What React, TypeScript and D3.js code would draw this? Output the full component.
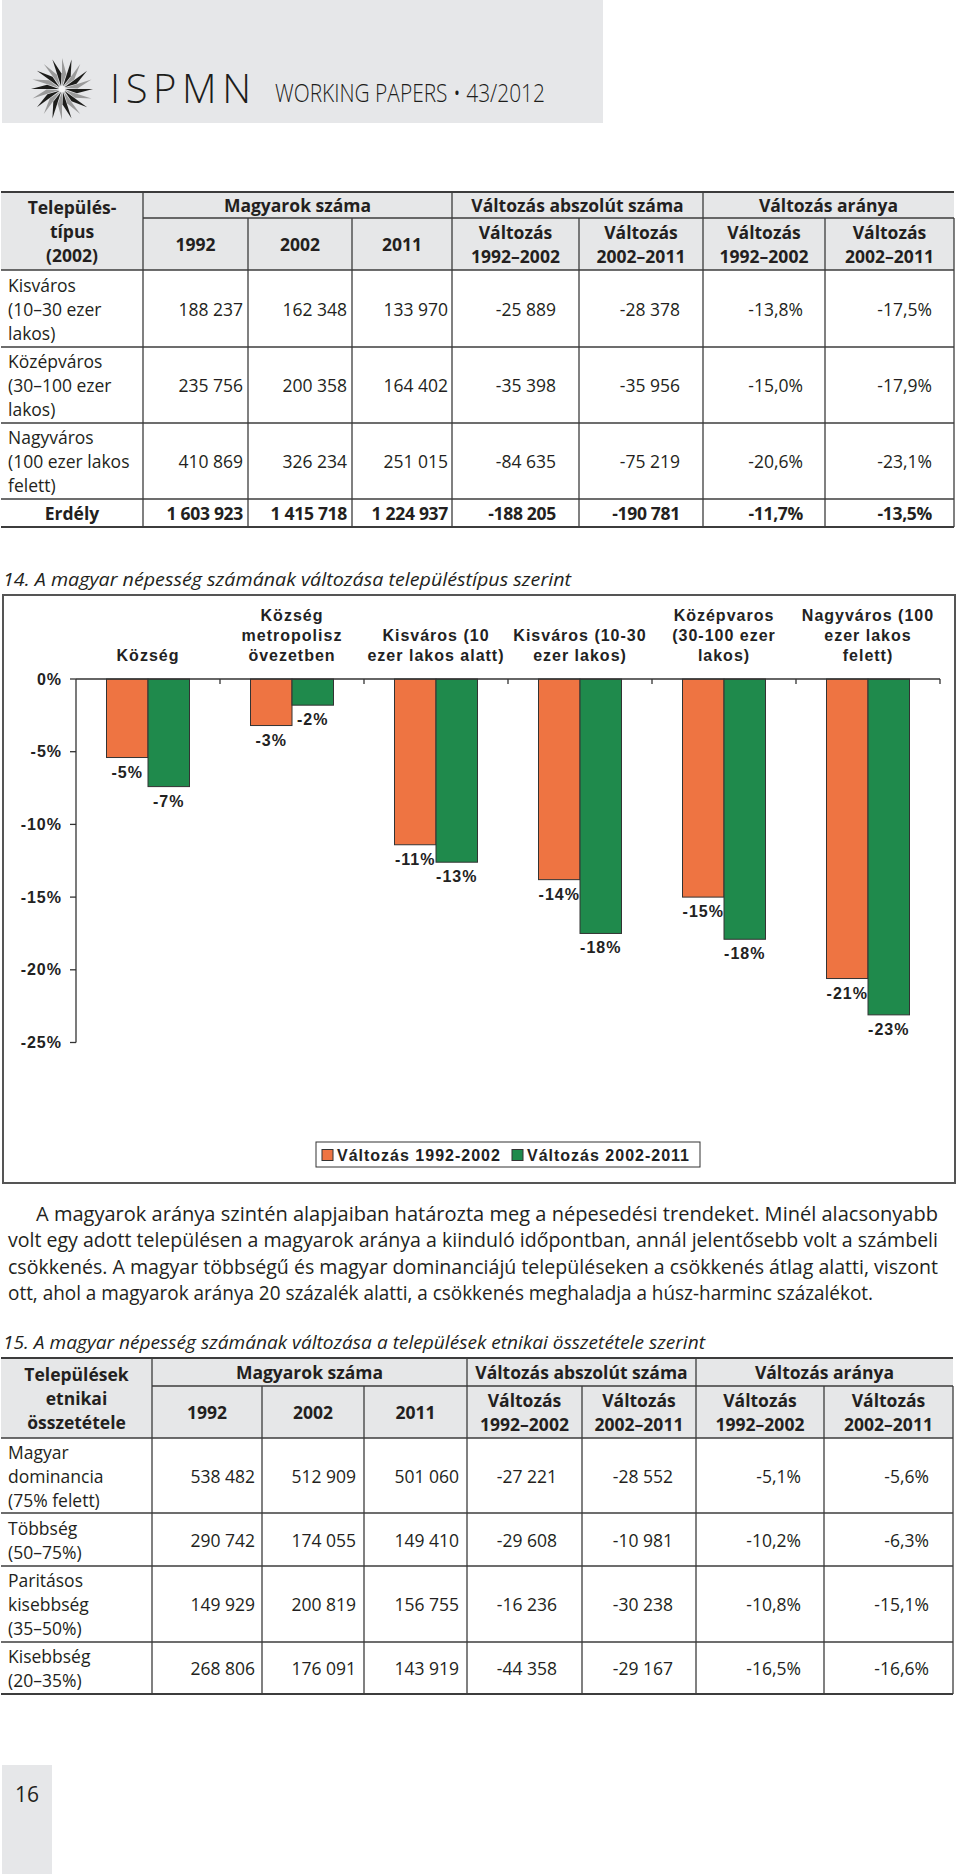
import React from 'react';
import * as d3 from 'd3';

// ---------- Chart data ----------
const categories: string[][] = [
  ['Község'],
  ['Község', 'metropolisz', 'övezetben'],
  ['Kisváros (10', 'ezer lakos alatt)'],
  ['Kisváros (10-30', 'ezer lakos)'],
  ['Középvaros', '(30-100 ezer', 'lakos)'],
  ['Nagyváros (100', 'ezer lakos', 'felett)'],
];
const seriesNames = ['Változás 1992-2002', 'Változás 2002-2011'];
const change1992_2002 = [-5.4, -3.2, -11.4, -13.8, -15.0, -20.6];
const change2002_2011 = [-7.4, -1.8, -12.6, -17.5, -17.9, -23.1];
const yTicks = [0, -5, -10, -15, -20, -25];
const seriesColors = ['#ee7442', '#1f8a4c'];

// ---------- Table 13 data ----------
const t1RowLabels: string[][] = [
  ['Kisváros', '(10–30 ezer', 'lakos)'],
  ['Középváros', '(30–100 ezer', 'lakos)'],
  ['Nagyváros', '(100 ezer lakos', 'felett)'],
];
const t1Values: string[][] = [
  ['188 237', '162 348', '133 970', '-25 889', '-28 378', '-13,8%', '-17,5%'],
  ['235 756', '200 358', '164 402', '-35 398', '-35 956', '-15,0%', '-17,9%'],
  ['410 869', '326 234', '251 015', '-84 635', '-75 219', '-20,6%', '-23,1%'],
];
const t1TotalLabel = 'Erdély';
const t1Total = ['1 603 923', '1 415 718', '1 224 937', '-188 205', '-190 781', '-11,7%', '-13,5%'];
const t1FirstHeader = ['Település-', 'típus', '(2002)'];

// ---------- Table 15 data ----------
const t2RowLabels: string[][] = [
  ['Magyar', 'dominancia', '(75% felett)'],
  ['Többség', '(50–75%)'],
  ['Paritásos', 'kisebbség', '(35–50%)'],
  ['Kisebbség', '(20–35%)'],
];
const t2Values: string[][] = [
  ['538 482', '512 909', '501 060', '-27 221', '-28 552', '-5,1%', '-5,6%'],
  ['290 742', '174 055', '149 410', '-29 608', '-10 981', '-10,2%', '-6,3%'],
  ['149 929', '200 819', '156 755', '-16 236', '-30 238', '-10,8%', '-15,1%'],
  ['268 806', '176 091', '143 919', '-44 358', '-29 167', '-16,5%', '-16,6%'],
];
const t2FirstHeader = ['Települések', 'etnikai', 'összetétele'];

const groupHeaders = ['Magyarok száma', 'Változás abszolút száma', 'Változás aránya'];
const yearHeaders = ['1992', '2002', '2011'];
const t1SubHeaders: string[][] = [
  ['Változás', '1992–2002'], ['Változás', '2002–2011'], ['Változás', '1992–2002'], ['Változás', '2002–2011'],
];
const t2SubHeaders: string[][] = [
  ['Változás', '1992–2002'], ['Változás', '2002–2011'], ['Változás', '1992–2002'], ['Változás', '2002–2011'],
];

const paragraphLines = [
  'A magyarok aránya szintén alapjaiban határozta meg a népesedési trendeket. Minél alacsonyabb',
  'volt egy adott településen a magyarok aránya a kiinduló időpontban, annál jelentősebb volt a számbeli',
  'csökkenés. A magyar többségű és magyar dominanciájú településeken a csökkenés átlag alatti, viszont',
  'ott, ahol a magyarok aránya 20 százalék alatti, a csökkenés meghaladja a húsz-harminc százalékot.',
];
const chartTitle = '14.  A magyar népesség számának változása településtípus szerint';
const table2Title = '15.  A magyar népesség számának változása a települések etnikai összetétele szerint';

const SANS = "'Open Sans', 'Noto Sans', sans-serif";
const ARIAL = "'Liberation Sans', Arial, sans-serif";
const INK = '#231f20';
const LINE = '#3c3c3c';

type TableSpec = {
  top: number; split: number; headBottom: number; rowBottoms: number[];
  cols: number[]; rightPad: number[]; left: number; right: number;
  firstHeader: string[]; subHeaders: string[][]; rowLabels: string[][]; values: string[][];
  total?: { label: string; values: string[] };
};

function Table({ s }: { s: TableSpec }) {
  const els: React.ReactNode[] = [];
  const fs = 17.5;
  const lh = 24;
  els.push(<rect key="hf" x={s.left} y={s.top} width={s.right - s.left} height={s.headBottom - s.top} fill="#e6e7e8" />);
  const multi = (lines: string[], cx: number, cy: number, anchor: string, bold: boolean, key: string, xx?: number) => {
    const n = lines.length;
    return lines.map((t, k) => (
      <text key={key + k} x={xx ?? cx} y={cy + 7 + (k - (n - 1) / 2) * lh} textAnchor={anchor}
        fontFamily={SANS} fontSize={fs} fontWeight={bold ? 700 : 400} fill={INK}>{t}</text>
    ));
  };
  els.push(...multi(s.firstHeader, (s.left + s.cols[0]) / 2, (s.top + s.headBottom) / 2, 'middle', true, 'fh'));
  const groupSpans = [[0, 3], [3, 5], [5, 7]];
  groupSpans.forEach(([a, b], gi) => {
    const x0 = s.cols[a];
    const x1 = s.cols[b];
    els.push(<text key={'gh' + gi} x={(x0 + x1) / 2} y={(s.top + s.split) / 2 + 7} textAnchor="middle"
      fontFamily={SANS} fontSize={fs} fontWeight={700} fill={INK}>{groupHeaders[gi]}</text>);
  });
  const subCy = (s.split + s.headBottom) / 2;
  yearHeaders.forEach((yh, i) => {
    els.push(<text key={'yh' + i} x={(s.cols[i] + s.cols[i + 1]) / 2} y={subCy + 7} textAnchor="middle"
      fontFamily={SANS} fontSize={fs} fontWeight={700} fill={INK}>{yh}</text>);
  });
  s.subHeaders.forEach((sh, i) => {
    const c = i + 3;
    els.push(...multi(sh, (s.cols[c] + s.cols[c + 1]) / 2, subCy, 'middle', true, 'sh' + i));
  });
  let prev = s.headBottom;
  s.rowLabels.forEach((lab, r) => {
    const bottom = s.rowBottoms[r];
    const cy = (prev + bottom) / 2;
    els.push(...multi(lab, 0, cy, 'start', false, 'rl' + r, s.left + 7));
    s.values[r].forEach((v, c) => {
      els.push(<text key={'v' + r + '_' + c} x={s.cols[c + 1] - s.rightPad[c]} y={cy + 7} textAnchor="end"
        fontFamily={SANS} fontSize={fs} fill={INK}>{v}</text>);
    });
    prev = bottom;
  });
  if (s.total) {
    const bottom = s.rowBottoms[s.rowLabels.length];
    const cy = (prev + bottom) / 2;
    els.push(<text key="tl" x={(s.left + s.cols[0]) / 2} y={cy + 7} textAnchor="middle"
      fontFamily={SANS} fontSize={fs} fontWeight={700} fill={INK}>{s.total.label}</text>);
    s.total.values.forEach((v, c) => {
      els.push(<text key={'tv' + c} x={s.cols[c + 1] - s.rightPad[c]} y={cy + 7} textAnchor="end"
        fontFamily={SANS} fontSize={fs} fontWeight={700} fill={INK} letterSpacing={-0.3}>{v}</text>);
    });
  }
  const lastBottom = s.rowBottoms[s.rowBottoms.length - 1];
  els.push(<line key="ltop" x1={s.left} x2={s.right} y1={s.top} y2={s.top} stroke={LINE} strokeWidth={2} />);
  els.push(<line key="lsplit" x1={s.cols[0]} x2={s.right} y1={s.split} y2={s.split} stroke={LINE} strokeWidth={1.3} />);
  els.push(<line key="lhb" x1={s.left} x2={s.right} y1={s.headBottom} y2={s.headBottom} stroke={LINE} strokeWidth={1.3} />);
  s.rowBottoms.forEach((b, i) => els.push(
    <line key={'lr' + i} x1={s.left} x2={s.right} y1={b} y2={b} stroke={LINE} strokeWidth={i === s.rowBottoms.length - 1 ? 2 : 1.3} />));
  s.cols.slice(0, 8).forEach((cx, i) => {
    const y1 = (i === 3 || i === 5 || i === 0) ? s.top : s.split;
    els.push(<line key={'lc' + i} x1={cx} x2={cx} y1={y1} y2={lastBottom} stroke={LINE} strokeWidth={1.3} />);
  });
  return <g>{els}</g>;
}

function Star({ cx, cy }: { cx: number; cy: number }) {
  const n = 20;
  const R = 31;
  const blades = d3.range(n).map((i) => {
    const a = (i * 2 * Math.PI) / n;
    const p = (r: number, ang: number) => [cx + r * Math.cos(ang), cy + r * Math.sin(ang)];
    const pts = [p(3, a), p(R, a), p(R * 0.5, a + 0.28)];
    return (
      <path key={i} d={'M' + pts.map((q) => q.join(',')).join('L') + 'Z'}
        fill={i % 2 === 0 ? '#1d1d1b' : '#9a9a9a'} />
    );
  });
  return (
    <g>
      {blades}
      <circle cx={cx} cy={cy} r={3} fill="#f4f4f4" />
    </g>
  );
}

export default function App() {
  const x0 = d3.scaleBand<number>().domain(d3.range(categories.length)).range([76, 940]).padding(0);
  const x1 = d3.scaleBand<number>().domain([0, 1]).range([-41.5, 41.5]).padding(0);
  const y = d3.scaleLinear().domain([0, -25]).range([679, 1042.5]);
  const series = [change1992_2002, change2002_2011];
  const fmtPct = (v: number) => (v < 0 ? '-' : '') + Math.round(Math.abs(v)) + '%';

  const t1: TableSpec = {
    top: 192, split: 218, headBottom: 270, rowBottoms: [347, 423, 499, 527],
    cols: [143, 248, 352, 452, 579, 703, 825, 954], rightPad: [5, 5, 4, 23, 23, 22, 22],
    left: 1, right: 954, firstHeader: t1FirstHeader, subHeaders: t1SubHeaders,
    rowLabels: t1RowLabels, values: t1Values, total: { label: t1TotalLabel, values: t1Total },
  };
  const t2: TableSpec = {
    top: 1358, split: 1386, headBottom: 1438, rowBottoms: [1513, 1566, 1642, 1694],
    cols: [152, 262, 364, 467, 582, 696, 824, 953], rightPad: [7, 8, 8, 25, 23, 23, 24],
    left: 1, right: 953, firstHeader: t2FirstHeader, subHeaders: t2SubHeaders,
    rowLabels: t2RowLabels, values: t2Values,
  };

  return (
    <svg width={960} height={1874} viewBox="0 0 960 1874"
      style={{ position: 'absolute', left: 0, top: 0, display: 'block', background: '#fff' }}>
      <rect x={0} y={0} width={960} height={1874} fill="#fff" />
      {/* page header */}
      <rect x={2} y={0} width={601} height={123} fill="#e6e7e9" />
      <Star cx={62} cy={89} />
      <text x={110} y={103} fontFamily={SANS} fontWeight={300} fontSize={40} fill="#1d1d1b"
        textLength={141} lengthAdjust="spacing">ISPMN</text>
      <text x={275} y={102} fontFamily={SANS} fontWeight={300} fontSize={26} fill="#1d1d1b"
        textLength={270} lengthAdjust="spacingAndGlyphs">WORKING PAPERS • 43/2012</text>

      <Table s={t1} />

      <text x={3} y={586} fontFamily={SANS} fontStyle="italic" fontSize={19} fill={INK}
        textLength={568} lengthAdjust="spacingAndGlyphs">{chartTitle}</text>

      {/* chart */}
      <rect x={3} y={595} width={952} height={588} fill="#fff" stroke="#555" strokeWidth={2} />
      {categories.map((lines, i) => {
        const cx = (x0(i) as number) + x0.bandwidth() / 2;
        return lines.map((t, k) => (
          <text key={'c' + i + k} x={cx} y={661 - (lines.length - 1 - k) * 20} textAnchor="middle"
            fontFamily={ARIAL} fontWeight={700} fontSize={16} letterSpacing={1} fill="#222">{t}</text>
        ));
      })}
      {series.map((vals, s) =>
        vals.map((v, i) => {
          const bx = (x0(i) as number) + x0.bandwidth() / 2 + (x1(s) as number);
          return (
            <rect key={'b' + s + i} x={bx} y={y(0)} width={x1.bandwidth()} height={y(v) - y(0)}
              fill={seriesColors[s]} stroke="#333" strokeWidth={1} />
          );
        })
      )}
      {series.map((vals, s) =>
        vals.map((v, i) => {
          const bx = (x0(i) as number) + x0.bandwidth() / 2 + (x1(s) as number) + x1.bandwidth() / 2;
          return (
            <text key={'l' + s + i} x={bx} y={y(v) + 20} textAnchor="middle" fontFamily={ARIAL}
              fontWeight={700} fontSize={16} letterSpacing={1} fill="#222">{fmtPct(v)}</text>
          );
        })
      )}
      <line x1={76} x2={76} y1={y(0)} y2={y(-25)} stroke="#333" strokeWidth={1.3} />
      {yTicks.map((t) => (
        <g key={'yt' + t}>
          <line x1={70} x2={76} y1={y(t)} y2={y(t)} stroke="#333" strokeWidth={1.3} />
          <text x={62} y={y(t) + 5.5} textAnchor="end" fontFamily={ARIAL} fontWeight={700} fontSize={16}
            letterSpacing={1} fill="#222">{t + '%'}</text>
        </g>
      ))}
      <line x1={76} x2={940} y1={y(0)} y2={y(0)} stroke="#333" strokeWidth={1.3} />
      {d3.range(1, categories.length + 1).map((i) => {
        const tx = i < categories.length ? (x0(i) as number) : 940;
        return <line key={'xt' + i} x1={tx} x2={tx} y1={y(0)} y2={y(0) + 5} stroke="#333" strokeWidth={1.3} />;
      })}
      <rect x={316} y={1142} width={384} height={25} fill="#fff" stroke="#333" strokeWidth={1} />
      {seriesNames.map((nm, s) => {
        const lx = s === 0 ? 322 : 512;
        return (
          <g key={'lg' + s}>
            <rect x={lx} y={1149.5} width={11} height={11} fill={seriesColors[s]} stroke="#333" strokeWidth={1} />
            <text x={lx + 15} y={1161} fontFamily={ARIAL} fontWeight={700} fontSize={16} letterSpacing={1}
              fill="#222">{nm}</text>
          </g>
        );
      })}

      {/* paragraph */}
      {paragraphLines.map((ln, i) => {
        const x = i === 0 ? 36 : 8;
        const tl = i === 0 ? 902 : i === 3 ? 865 : 930;
        return (
          <text key={'p' + i} x={x} y={1221 + i * 26.3} fontFamily={SANS} fontSize={19.5} fill={INK}
            textLength={tl} lengthAdjust="spacingAndGlyphs">{ln}</text>
        );
      })}

      <text x={3} y={1349} fontFamily={SANS} fontStyle="italic" fontSize={19} fill={INK}
        textLength={702} lengthAdjust="spacingAndGlyphs">{table2Title}</text>
      <Table s={t2} />

      <rect x={2} y={1765} width={50} height={109} fill="#e6e7e9" />
      <text x={27} y={1802} textAnchor="middle" fontFamily={SANS} fontSize={21} fill={INK}>16</text>
    </svg>
  );
}
